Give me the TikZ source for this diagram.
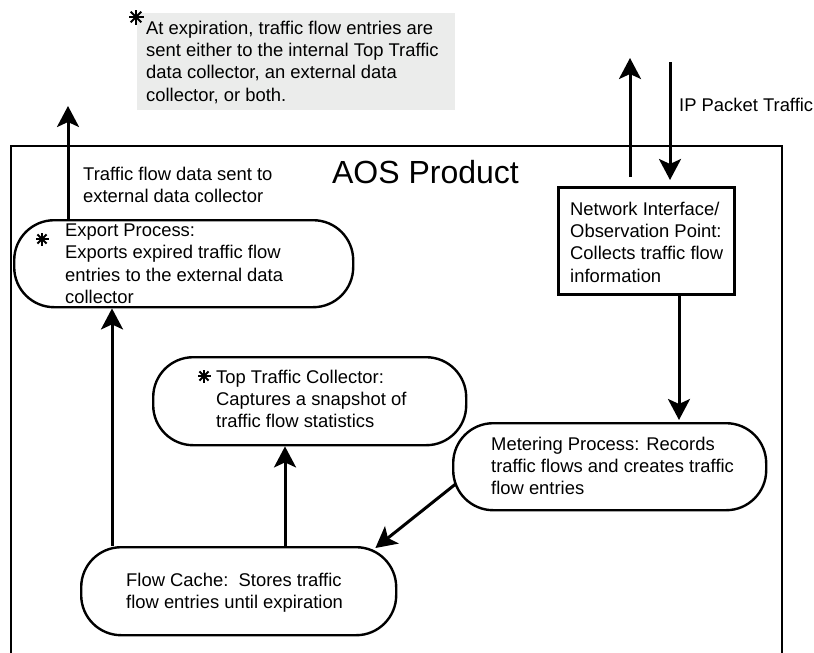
\documentclass[tikz,border=0pt]{standalone}
\usepackage{fontspec}
\setmainfont{Liberation Sans}
\usetikzlibrary{arrows.meta}
\definecolor{notegray}{HTML}{EBECEB}
\tikzset{
  shapebox/.style={draw, line width=2.4pt, rounded corners=40pt, inner sep=0pt, anchor=north west},
  rectbox/.style={draw, line width=2.5pt, inner sep=0pt, anchor=north west},
  txt/.style={inner sep=0pt, anchor=north west, align=left, font=\fontsize{18.4}{22.4}\selectfont},
  arr/.style={line width=3pt, -{Stealth[length=21pt,width=22pt,inset=5pt]}},
  frame/.style={line width=2.2pt}
}
\newcommand\drawastk[3]{%
  \foreach \a in {0,45,90,135}{\draw[line width=2pt,shift={(#1,#2)}] (\a:#3) -- (\a+180:#3);}}
\begin{document}
\begin{tikzpicture}[x=1pt,y=-1pt]
\useasboundingbox (0,0) rectangle (814,653);
% outer frame (open at the bottom)
\draw[frame] (11,653) -- (11,146) -- (782,146) -- (782,653);
% note
\node[fill=notegray, minimum width=318pt, minimum height=97pt, inner sep=0pt, anchor=north west] (note) at (137,13) {};
\node[txt] (notetxt) at (146,20.5) {At expiration, traffic flow entries are\\sent either to the internal Top Traffic\\data collector, an external data\\collector, or both.};
\drawastk{136}{17}{7.5}
% title
\node[inner sep=0pt, font=\fontsize{32}{36}\selectfont] (title) at (425.5,172) {AOS Product};
% boxes
\node[shapebox, minimum width=339pt, minimum height=87pt] (export) at (13,219) {};
\node[shapebox, minimum width=313pt, minimum height=88pt] (collector) at (152,356) {};
\node[shapebox, minimum width=313pt, minimum height=87pt] (metering) at (452,422) {};
\node[shapebox, minimum width=315pt, minimum height=88pt] (flowcache) at (80,546) {};
\node[rectbox, minimum width=176pt, minimum height=107pt] (network) at (557,186) {};
% texts
\node[txt] (exptxt) at (83,166.5) {Traffic flow data sent to\\external data collector};
\node[txt] (exporttxt) at (65,223.5) {Export Process:\\Exports expired traffic flow\\entries to the external data\\collector};
\drawastk{42}{239}{6.5}
\node[txt] (collectortxt) at (216,369.5) {Top Traffic Collector:\\Captures a snapshot of\\traffic flow statistics};
\drawastk{204}{376}{6.5}
\node[txt] (meteringtxt) at (491,436.5) {Metering Process: Records\\traffic flows and creates traffic\\flow entries};
\node[txt] (flowcachetxt) at (126,572.5) {Flow Cache:\ \ Stores traffic\\flow entries until expiration};
\node[txt] (networktxt) at (570,201.5) {Network Interface/\\Observation Point:\\Collects traffic flow\\information};
\node[txt] (iptxt) at (679,97.5) {IP Packet Traffic};
% helper coordinates
\coordinate (expOut) at (68,106);
\coordinate (netOut) at (630,58);
\coordinate (ipIn) at (670,62);
\coordinate (nmx) at (679,300);
\coordinate (fex) at (112,400);
\coordinate (fcx) at (285,400);
% connectors
\draw[arr] (export.north -| expOut) -- (expOut);
\draw[arr] ([yshift=9pt]network.north -| netOut) -- (netOut);
\draw[arr] (ipIn) -- ([yshift=6pt]network.north -| ipIn);
\draw[arr] (network.south -| nmx) -- ([yshift=2pt]metering.north -| nmx);
\draw[arr] ([xshift=4pt,yshift=-17pt]metering.west) -- ([xshift=-22pt,yshift=-2pt]flowcache.north east);
\draw[arr] (flowcache.north -| fcx) -- (collector.south -| fcx);
\draw[arr] (flowcache.north -| fex) -- (export.south -| fex);
\end{tikzpicture}
\end{document}
